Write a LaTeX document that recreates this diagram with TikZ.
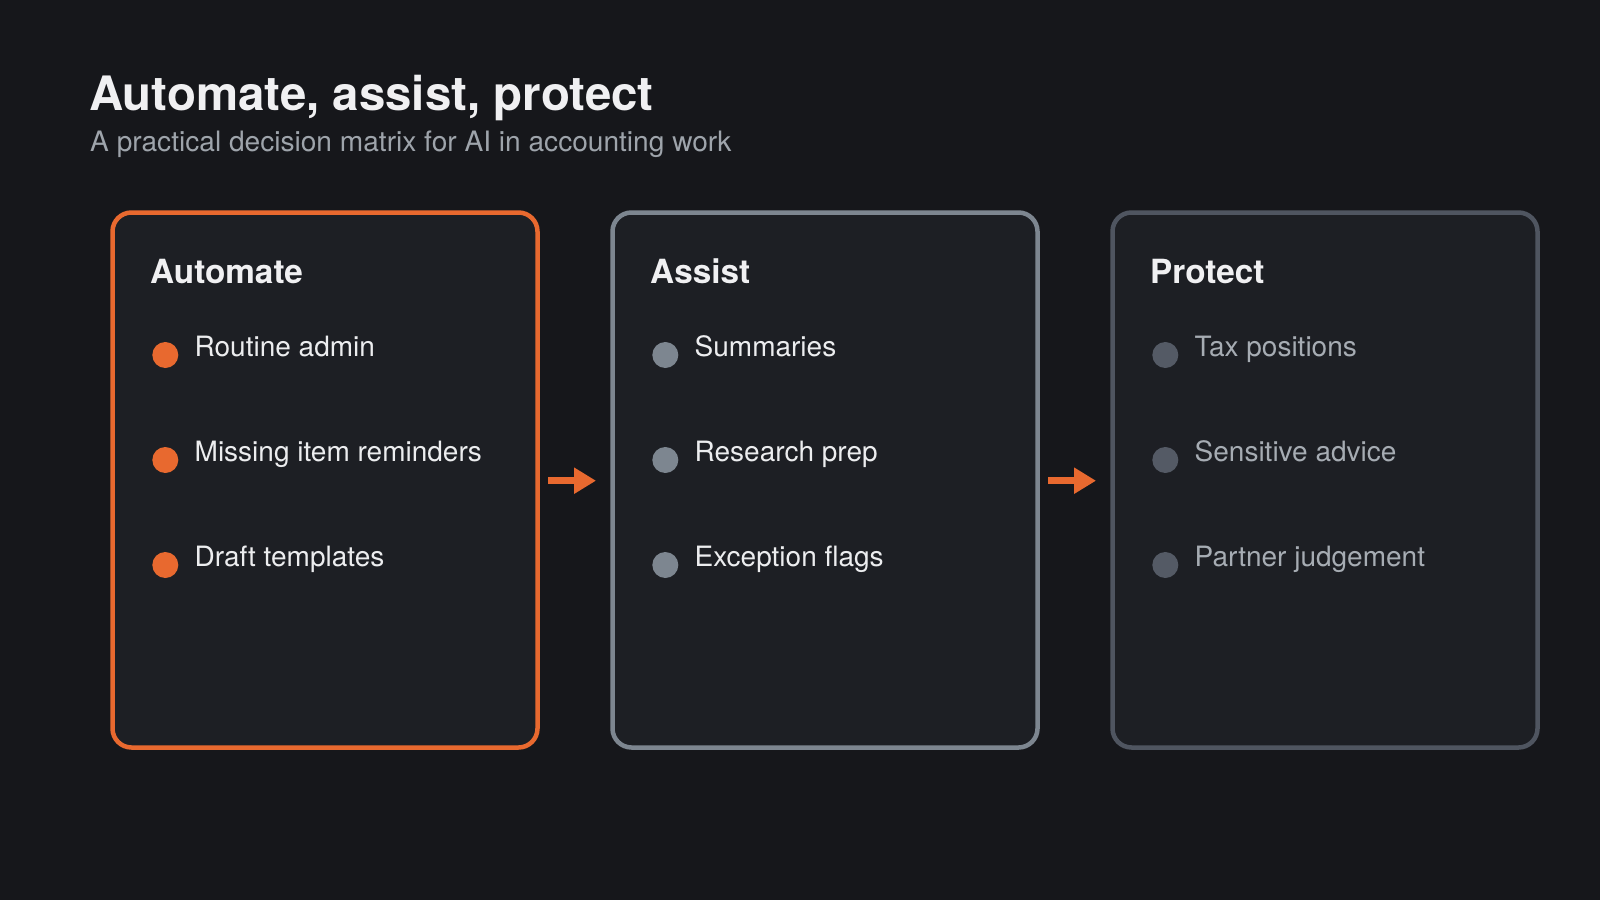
\documentclass[tikz,border=0pt]{standalone}
\usepackage{fontspec}
\setmainfont{TeX Gyre Heros}
\usetikzlibrary{arrows.meta}
\definecolor{bg}{HTML}{16171B}
\definecolor{boxfill}{HTML}{1D1F24}
\definecolor{accent}{HTML}{E8692F}
\definecolor{midgray}{HTML}{7D8690}
\definecolor{darkgray}{HTML}{4F5560}
\definecolor{dotdark}{HTML}{545A65}
\definecolor{titlecol}{HTML}{F0F0F2}
\definecolor{subcol}{HTML}{9EA4AB}
\definecolor{itemcol}{HTML}{ECEDEF}
\definecolor{mutedcol}{HTML}{A6ACB3}
\tikzset{
  panel/.style={draw, fill=boxfill, line width=4.5pt, rounded corners=19pt,
    minimum width=425pt, minimum height=535pt, inner sep=0pt, outer sep=0pt},
  headtext/.style={anchor=base west, inner sep=0pt, text=titlecol,
    font=\fontsize{33.3}{40}\selectfont\bfseries},
  itemtext/.style={anchor=base west, inner sep=0pt,
    font=\fontsize{28}{34}\selectfont},
  dot/.style={circle, minimum size=26pt, inner sep=0pt, outer sep=0pt},
  flow/.style={draw=accent, line width=7.5pt,
    -{Triangle[length=22pt,width=25pt,fill=accent]}}
}
\begin{document}
\begin{tikzpicture}[x=1pt,y=-1pt]
\fill[bg] (0,0) rectangle (1600,900);
\useasboundingbox (0,0) rectangle (1600,900);

\node[anchor=base west, inner sep=0pt, text=titlecol,
  font=\fontsize{47.4}{56}\selectfont\bfseries] (title) at (89,110) {Automate, assist, protect};
\node[anchor=base west, inner sep=0pt, text=subcol,
  font=\fontsize{28.1}{34}\selectfont] (subtitle) at (90,151) {A practical decision matrix for AI in accounting work};

% panels
\node[panel, draw=accent] (b1) at (325,480) {};
\node[panel, draw=midgray] (b2) at (825,480) {};
\node[panel, draw=darkgray] (b3) at (1325,480) {};

% headers
\node[headtext] (h1) at (150,283) {Automate};
\node[headtext] (h2) at (650,283) {Assist};
\node[headtext] (h3) at (1150,283) {Protect};

% panel 1 items
\node[dot, fill=accent] (d11) at (165.3,355) {};
\node[dot, fill=accent] (d12) at (165.3,460) {};
\node[dot, fill=accent] (d13) at (165.3,565) {};
\node[itemtext, text=itemcol] (t11) at (194.5,356) {Routine admin};
\node[itemtext, text=itemcol] (t12) at (194.5,461) {Missing item reminders};
\node[itemtext, text=itemcol] (t13) at (194.5,566) {Draft templates};

% panel 2 items
\node[dot, fill=midgray] (d21) at (665.3,355) {};
\node[dot, fill=midgray] (d22) at (665.3,460) {};
\node[dot, fill=midgray] (d23) at (665.3,565) {};
\node[itemtext, text=itemcol] (t21) at (694.5,356) {Summaries};
\node[itemtext, text=itemcol] (t22) at (694.5,461) {Research prep};
\node[itemtext, text=itemcol] (t23) at (694.5,566) {Exception flags};

% panel 3 items
\node[dot, fill=dotdark] (d31) at (1165.3,355) {};
\node[dot, fill=dotdark] (d32) at (1165.3,460) {};
\node[dot, fill=dotdark] (d33) at (1165.3,565) {};
\node[itemtext, text=mutedcol] (t31) at (1194.5,356) {Tax positions};
\node[itemtext, text=mutedcol] (t32) at (1194.5,461) {Sensitive advice};
\node[itemtext, text=mutedcol] (t33) at (1194.5,566) {Partner judgement};

% arrows
\draw[flow] ([xshift=10.5pt,yshift=-0.7pt]b1.east) -- ([xshift=-16.5pt,yshift=-0.7pt]b2.west);
\draw[flow] ([xshift=10.5pt,yshift=-0.7pt]b2.east) -- ([xshift=-16.5pt,yshift=-0.7pt]b3.west);
\end{tikzpicture}
\end{document}
